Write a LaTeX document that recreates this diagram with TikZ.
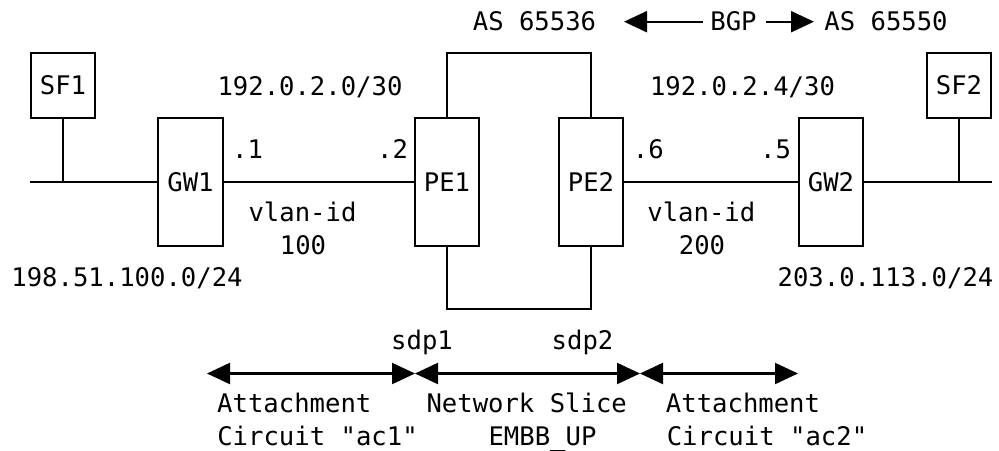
\documentclass[tikz,border=0pt]{standalone}
\usepackage{fontspec}
\newfontfamily\monofnt{DejaVu Sans Mono}
\usetikzlibrary{arrows.meta}
\tikzset{
  lw/.style={line width=2.2pt},
  boxnode/.style={draw, lw, inner sep=0pt, minimum width=64pt, font=\monofnt\fontsize{25.6}{30}\selectfont},
  lbl/.style={anchor=base, inner sep=0pt, font=\monofnt\fontsize{25.6}{30}\selectfont},
  dbl/.style={lw, {Triangle[length=23pt,width=21pt]}-{Triangle[length=23pt,width=21pt]}},
  rarr/.style={lw, -{Triangle[length=23pt,width=21pt]}},
  larr/.style={lw, {Triangle[length=23pt,width=21pt]}-},
}
\begin{document}
\begin{tikzpicture}[x=1pt, y=-1pt]
\useasboundingbox (0,0) rectangle (999,450);
% boxes
\node[boxnode, minimum height=65pt] (SF1) at (63,85.5) {SF1};
\node[boxnode, minimum width=65pt, minimum height=128pt] (GW1) at (190.5,182) {GW1};
\node[boxnode, minimum height=128pt] (PE1) at (447,182) {PE1};
\node[boxnode, minimum height=128pt] (PE2) at (591,182) {PE2};
\node[boxnode, minimum height=128pt] (GW2) at (831,182) {GW2};
\node[boxnode, minimum height=65pt] (SF2) at (959,85.5) {SF2};
% helper coordinates
\coordinate (lanL) at (30,182);
\coordinate (lanR) at (992,182);
\coordinate (loopT) at (0,53.3);
\coordinate (loopB) at (0,309.3);
% connectors
\draw[lw] (lanL) -- (GW1.west);
\draw[lw] (SF1.south) -- (SF1.south |- lanL);
\draw[lw] (GW1.east) -- (PE1.west);
\draw[lw] (PE2.east) -- (GW2.west);
\draw[lw] (GW2.east) -- (lanR);
\draw[lw] (SF2.south) -- (SF2.south |- lanR);
\draw[lw] (PE1.north) -- (PE1.north |- loopT) -| (PE2.north);
\draw[lw] (PE1.south) -- (PE1.south |- loopB) -| (PE2.south);
% BGP arrows
\coordinate (b1) at (624,21.7);
\coordinate (b2) at (703,21.7);
\coordinate (b3) at (766,21.7);
\coordinate (b4) at (814,21.7);
\draw[larr] (b1) -- (b2);
\draw[rarr] (b3) -- (b4);
% bottom arrows
\coordinate (c0) at (207,373.5);
\coordinate (c1) at (415,373.5);
\coordinate (c2) at (640,373.5);
\coordinate (c3) at (798,373.5);
\draw[dbl] (c0) -- (c1);
\draw[dbl] (c1) -- (c2);
\draw[dbl] (c2) -- (c3);
% labels
\node[lbl] (as1) at (534.5,30) {AS 65536};
\node[lbl] (bgp) at (733.5,30) {BGP};
\node[lbl] (as2) at (886,30) {AS 65550};
\node[lbl] (net1) at (310,95) {192.0.2.0/30};
\node[lbl] (net2) at (742.5,95) {192.0.2.4/30};
\node[lbl] (d1) at (247.5,158.3) {.1};
\node[lbl] (d2) at (392.5,158.3) {.2};
\node[lbl] (d6) at (648.3,158.3) {.6};
\node[lbl] (d5) at (775.5,158.3) {.5};
\node[lbl] (vl1) at (302.5,221.5) {vlan-id};
\node[lbl] (vn1) at (303,254) {100};
\node[lbl] (vl2) at (701.3,221.5) {vlan-id};
\node[lbl] (vn2) at (702,254) {200};
\node[lbl] (lan1) at (127,286.7) {198.51.100.0/24};
\node[lbl] (lan2) at (885.5,286.7) {203.0.113.0/24};
\node[lbl] (sdp1) at (422,349.5) {sdp1};
\node[lbl] (sdp2) at (582.5,349.5) {sdp2};
\node[lbl] (ac1a) at (294.3,412.5) {Attachment};
\node[lbl] (ac1b) at (317.5,445) {Circuit "ac1"};
\node[lbl] (nsa) at (526.7,412.5) {Network Slice};
\node[lbl] (nsb) at (542.5,445) {EMBB\_UP};
\node[lbl] (ac2a) at (743,412.5) {Attachment};
\node[lbl] (ac2b) at (767,445) {Circuit "ac2"};
\end{tikzpicture}
\end{document}
